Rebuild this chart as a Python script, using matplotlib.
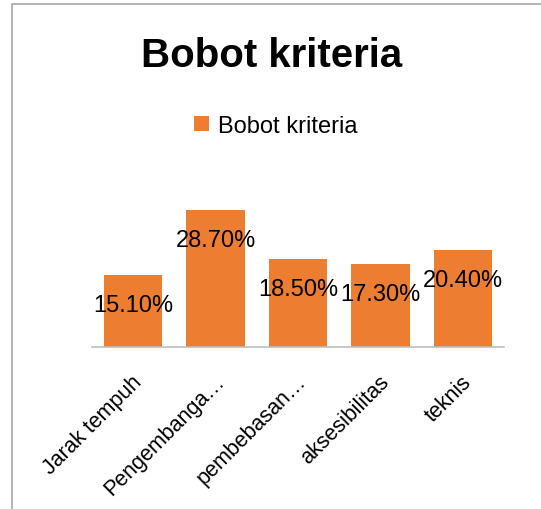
import matplotlib
matplotlib.use("Agg")
import matplotlib.pyplot as plt
import matplotlib.transforms as mtransforms
from matplotlib.lines import Line2D

categories = ["Jarak tempuh", "Pengembanga…", "pembebasan…", "aksesibilitas", "teknis"]
values = [15.1, 28.7, 18.5, 17.3, 20.4]
series_name = "Bobot kriteria"
title = "Bobot kriteria"

plt.rcParams['font.family'] = ['Liberation Sans', 'DejaVu Sans']

W, H = 541, 510
fig = plt.figure(figsize=(W / 100, H / 100), dpi=100)
ax = fig.add_axes([92 / W, 1 - 348 / H, (504 - 92) / W, 167 / H])

color = "#ED7D31"
x = range(len(categories))
bars = ax.bar(x, values, width=0.71, color=color, label=series_name, zorder=2)

ax.set_xlim(-0.5, len(categories) - 0.5)
ax.set_ylim(0, 35)
for s in ["top", "right", "left"]:
    ax.spines[s].set_visible(False)
ax.spines["bottom"].set_color("#BFBFBF")
ax.spines["bottom"].set_linewidth(1.2)
ax.set_yticks([])
ax.set_xticks(list(x))
ax.set_xticklabels(categories, rotation=45, ha="right", va="top",
                   rotation_mode="anchor", fontsize=15.5)
ax.tick_params(axis="x", length=0, pad=17)
offset = mtransforms.ScaledTranslation(-2 / 100, 0, fig.dpi_scale_trans)
for lbl in ax.get_xticklabels():
    lbl.set_transform(lbl.get_transform() + offset)

for xi, v in zip(x, values):
    ax.annotate(f"{v:.2f}%", (xi, v), xytext=(0, -21.6), textcoords="offset points",
                ha="center", va="center", fontsize=17, color="black", zorder=3)

fig.text(272 / W, 1 - 56 / H, title, fontsize=29, fontweight="bold",
         ha="center", va="center")

leg = fig.legend(handles=[bars], labels=[series_name], loc="center",
                 bbox_to_anchor=(276 / W, 1 - 127 / H), frameon=False,
                 fontsize=17, handlelength=0.6, handleheight=0.6, handletextpad=0.4)

fig.add_artist(Line2D([12 / W, 12 / W, 1], [0, 1 - 5 / H, 1 - 5 / H],
                      transform=fig.transFigure, color="#A6A6A6", linewidth=1.2))

fig.savefig("out.png", dpi=100)
